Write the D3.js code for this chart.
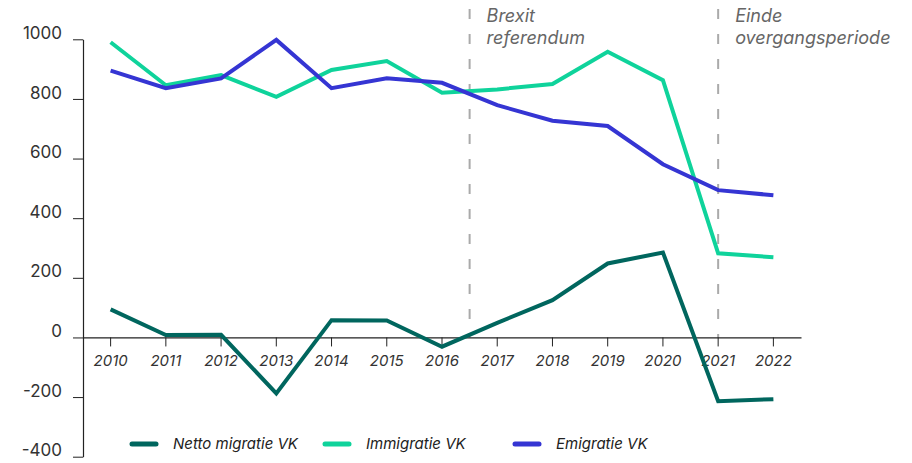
<!DOCTYPE html>
<meta charset="utf-8">
<style>
body { margin: 0; background: #fff; }
text { font-family: Inter, "Open Sans", sans-serif; fill: #333; }
.axis path, .axis line { stroke: #222; }
</style>
<svg width="912" height="463"></svg>
<script src="https://cdn.jsdelivr.net/npm/d3@7"></script>
<script>

// data (x 1000)
var years = [2010, 2011, 2012, 2013, 2014, 2015, 2016, 2017, 2018, 2019, 2020, 2021, 2022];
var netto = [94, 8, 9, -188, 58, 57, -31, 49, 125, 248, 285, -214, -207];
var immigratie = [990, 846, 880, 807, 897, 927, 821, 832, 850, 958, 863, 282, 269];
var emigratie = [895, 836, 869, 998, 836, 869, 854, 779, 727, 709, 581, 494, 477];
var yTicks = [-400, -200, 0, 200, 400, 600, 800, 1000];
var events = [
  {pos: 2016.5, lines: ["Brexit", "referendum"]},
  {pos: 2021, lines: ["Einde", "overgangsperiode"]}
];

var series = [
  {name: "Netto migratie VK", values: netto, color: "#00665e"},
  {name: "Immigratie VK", values: immigratie, color: "#0fd39b"},
  {name: "Emigratie VK", values: emigratie, color: "#3535d3"}
];

var svg = d3.select("svg");
var left = 83, right = 801;

var x = d3.scaleBand()
    .domain(years)
    .range([left, right]);

// continuous version for the event lines
var xc = d3.scaleLinear()
    .domain([years[0], years[years.length - 1]])
    .range([x(years[0]) + x.bandwidth() / 2, x(years[years.length - 1]) + x.bandwidth() / 2]);

var y = d3.scaleLinear()
    .domain([-400, 1000])
    .range([456.7, 39.3]);

// y axis
var yAxis = svg.append("g")
    .attr("class", "axis")
    .attr("transform", "translate(" + left + ",0)")
    .call(d3.axisLeft(y).tickValues(yTicks).tickFormat(function(d) { return String(d); })
        .tickSize(10).tickPadding(11).tickSizeOuter(0));
yAxis.select(".domain").attr("stroke-width", 1.2);
yAxis.selectAll(".tick line").attr("stroke", "#555");
yAxis.selectAll("text")
    .style("font-size", "17px")
    .attr("dy", "-0.05em")
    .attr("fill", "#333");

// dashed event lines
var ev = svg.append("g").selectAll("g")
    .data(events)
    .enter().append("g");

ev.append("line")
    .attr("x1", function(d) { return xc(d.pos); })
    .attr("x2", function(d) { return xc(d.pos); })
    .attr("y1", 9)
    .attr("y2", y(0))
    .attr("stroke", "#aaa")
    .attr("stroke-width", 2)
    .attr("stroke-dasharray", "10,15");

ev.append("text")
    .attr("y", 22)
    .style("font-size", "18px")
    .style("font-style", "italic")
    .style("fill", "#666")
    .selectAll("tspan")
    .data(function(d) { return d.lines.map(function(l) { return {pos: d.pos, text: l}; }); })
    .enter().append("tspan")
    .attr("x", function(d) { return xc(d.pos) + 17; })
    .attr("dy", function(d, i) { return i ? 22 : 0; })
    .text(function(d) { return d.text; });

// x axis at zero
var xAxis = svg.append("g")
    .attr("class", "axis")
    .attr("transform", "translate(0," + y(0) + ")")
    .call(d3.axisBottom(x).tickSize(9).tickPadding(9).tickSizeOuter(0));
xAxis.select(".domain").attr("stroke-width", 1.2);
xAxis.selectAll("text")
    .style("font-size", "15px")
    .style("font-style", "italic")
    .attr("fill", "#222");

// lines
var line = d3.line()
    .x(function(d, i) { return x(years[i]) + x.bandwidth() / 2; })
    .y(function(d) { return y(d); });

svg.append("g").selectAll("path")
    .data([series[1], series[2], series[0]])
    .enter().append("path")
    .attr("d", function(d) { return line(d.values); })
    .attr("fill", "none")
    .attr("stroke", function(d) { return d.color; })
    .attr("stroke-width", 4)
    .attr("stroke-linejoin", "miter");

// legend
var legendX = [132, 325, 515];
var legend = svg.append("g").selectAll("g")
    .data(series)
    .enter().append("g")
    .attr("transform", function(d, i) { return "translate(" + legendX[i] + ",444)"; });

legend.append("line")
    .attr("x1", 0)
    .attr("x2", 24)
    .attr("stroke", function(d) { return d.color; })
    .attr("stroke-width", 5)
    .attr("stroke-linecap", "round");

legend.append("text")
    .attr("x", 41)
    .attr("dy", "0.35em")
    .style("font-size", "15px")
    .style("font-style", "italic")
    .style("fill", "#222")
    .text(function(d) { return d.name; });

</script>
